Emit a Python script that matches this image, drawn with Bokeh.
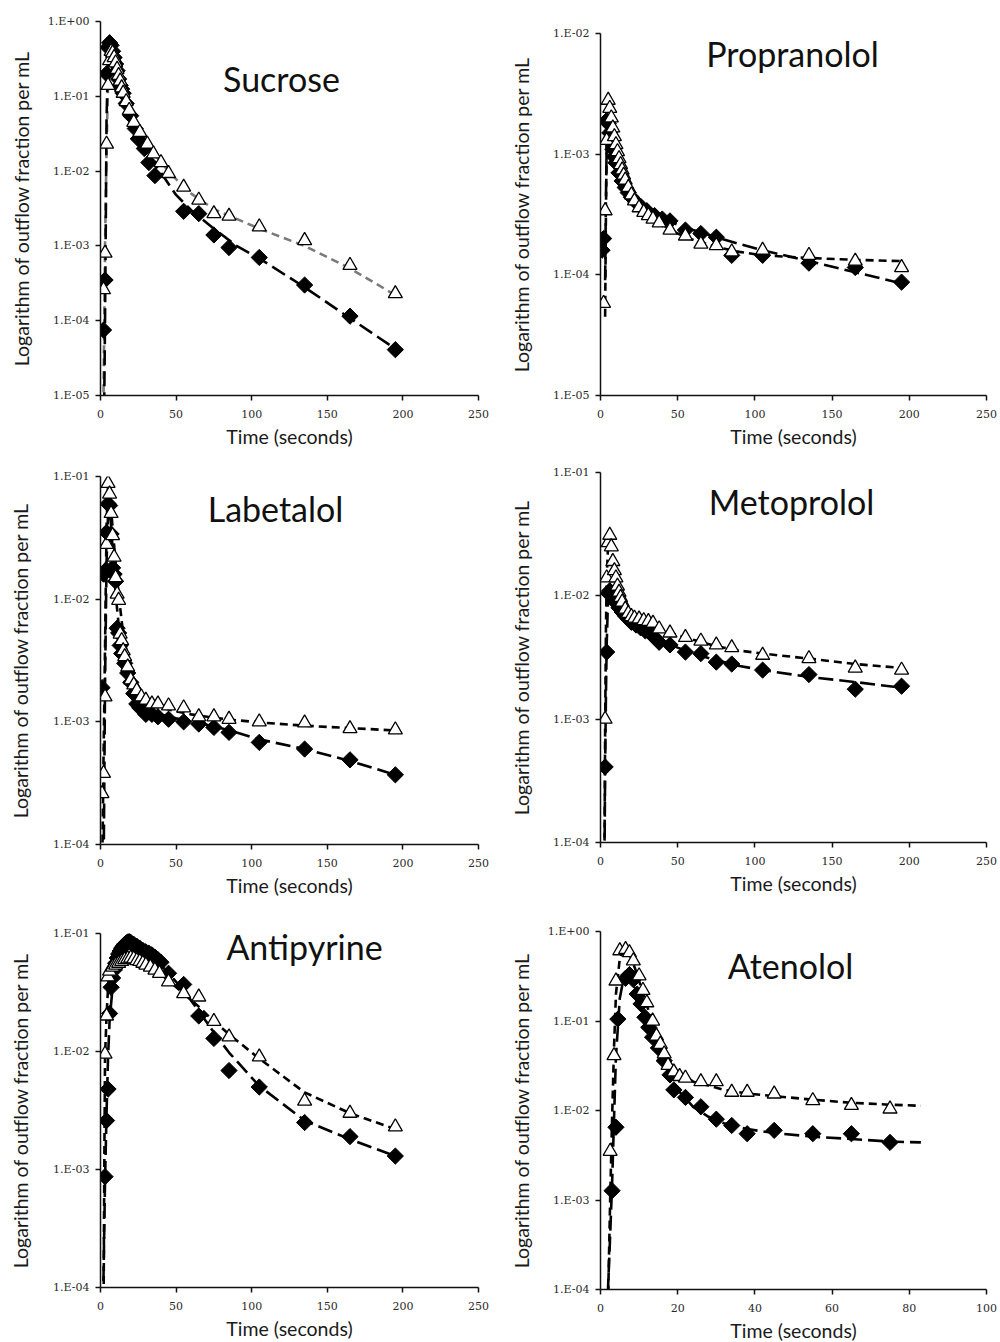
import math
from bokeh.plotting import figure
from bokeh.layouts import column, row
from bokeh.models import Label, CustomJSTickFormatter, FixedTicker, Range1d
from bokeh.embed import file_html
from bokeh.resources import INLINE

# ---------------- data ----------------
x_ticks_long = [0, 50, 100, 150, 200, 250]
x_ticks_short = [0, 20, 40, 60, 80, 100]

# Sucrose
suc_t_d = [2, 3, 4, 5, 6, 7, 8, 9, 10, 11, 12, 13, 14, 15, 17, 20, 23, 25, 29, 32, 36, 55, 65, 75, 85, 105, 135, 165, 195]
suc_d = [7.5e-5, 3.5e-4, 0.2, 0.45, 0.52, 0.48, 0.40, 0.33, 0.27, 0.22, 0.17, 0.14, 0.125, 0.11, 0.08, 0.055, 0.037, 0.027, 0.02, 0.013, 0.0087,
         0.0029, 0.0027, 0.0014, 0.00095, 0.0007, 0.0003, 0.000115, 4.1e-5]
suc_t_a = [2, 3, 4, 5, 6, 7, 8, 9, 10, 11, 12, 13, 14, 15, 17, 19, 22, 26, 31, 35, 40, 45, 55, 65, 75, 85, 105, 135, 165, 195]
suc_a = [2.6e-4, 8e-4, 0.023, 0.14, 0.3, 0.4, 0.38, 0.33, 0.28, 0.23, 0.19, 0.16, 0.13, 0.11, 0.085, 0.065, 0.045, 0.033, 0.023, 0.017, 0.013, 0.0093,
         0.0061, 0.0041, 0.0027, 0.0025, 0.0018, 0.00118, 0.00055, 0.00023]
suc_fit_t_d = [2, 2.5, 3, 3.5, 4, 5, 6, 7, 9, 12, 15, 20, 25, 30, 40, 50, 60, 75, 90, 105, 135, 165, 195]
suc_fit_d = [1e-6, 1e-5, 1e-4, 2e-3, 0.05, 0.35, 0.5, 0.47, 0.33, 0.18, 0.11, 0.055, 0.03, 0.017, 0.0095, 0.0048, 0.003, 0.0017, 0.001, 0.00068,
             0.00028, 0.000108, 4.2e-5]
suc_fit_t_a = [1.5, 2, 2.5, 3, 4, 5, 6, 7, 9, 12, 15, 20, 25, 30, 40, 50, 60, 75, 90, 105, 135, 165, 195]
suc_fit_a = [1e-6, 1e-5, 1e-4, 1e-3, 0.02, 0.15, 0.33, 0.4, 0.32, 0.19, 0.12, 0.06, 0.036, 0.024, 0.013, 0.0078, 0.005, 0.0031, 0.0023, 0.0017,
             0.001, 0.0005, 0.00022]

# Propranolol
pro_t_d = [1, 2, 4, 5, 6, 7, 8, 9, 10, 12, 14, 16, 18, 20, 23, 26, 30, 35, 40, 45, 55, 65, 75, 85, 105, 135, 165, 195]
pro_d = [1.6e-4, 2.0e-4, 1.9e-3, 1.8e-3, 1.5e-3, 1.3e-3, 1.1e-3, 9.5e-4, 8.5e-4, 7.0e-4, 6.0e-4, 5.3e-4, 4.8e-4, 4.4e-4, 4.0e-4, 3.7e-4,
         3.4e-4, 3.1e-4, 2.9e-4, 2.8e-4, 2.35e-4, 2.2e-4, 2.05e-4, 1.45e-4, 1.45e-4, 1.25e-4, 1.15e-4, 8.7e-5]
pro_t_a = [2, 3, 4, 5, 6, 7, 8, 9, 10, 11, 12, 13, 14, 15, 16, 18, 20, 22, 25, 28, 31, 34, 38, 45, 55, 65, 75, 85, 105, 135, 165, 195]
pro_a = [5.8e-5, 3.4e-4, 1.3e-3, 2.8e-3, 2.4e-3, 2.0e-3, 1.65e-3, 1.4e-3, 1.2e-3, 1.05e-3, 9.2e-4, 8.2e-4, 7.4e-4, 6.7e-4, 6.1e-4, 5.3e-4,
         4.6e-4, 4.1e-4, 3.6e-4, 3.3e-4, 3.1e-4, 2.9e-4, 2.7e-4, 2.35e-4, 2.1e-4, 1.8e-4, 1.75e-4, 1.55e-4, 1.6e-4, 1.45e-4, 1.3e-4, 1.15e-4]
pro_fit_t_d = [3, 3.5, 4, 4.5, 5, 6, 8, 10, 13, 16, 20, 25, 30, 40, 50, 60, 75, 90, 105, 135, 165, 195]
pro_fit_d = [9e-5, 4e-4, 1.2e-3, 1.7e-3, 1.8e-3, 1.5e-3, 1.15e-3, 9e-4, 6.9e-4, 5.6e-4, 4.5e-4, 3.8e-4, 3.4e-4, 2.95e-4, 2.6e-4, 2.35e-4,
             2.05e-4, 1.8e-4, 1.6e-4, 1.3e-4, 1.05e-4, 8.5e-5]
pro_fit_t_a = [3, 3.5, 4, 4.5, 5, 6, 7, 8, 10, 13, 16, 20, 25, 30, 40, 50, 60, 75, 90, 105, 135, 165, 195]
pro_fit_a = [4.5e-5, 3e-4, 1.3e-3, 2.3e-3, 2.6e-3, 2.4e-3, 1.95e-3, 1.6e-3, 1.15e-3, 8.2e-4, 6.3e-4, 4.8e-4, 3.7e-4, 3.15e-4, 2.6e-4, 2.2e-4,
             1.95e-4, 1.7e-4, 1.55e-4, 1.45e-4, 1.38e-4, 1.33e-4, 1.3e-4]

# Labetalol
lab_t_d = [1, 2, 3, 4, 5, 6, 7, 8, 9, 10, 11, 12, 13, 14, 16, 18, 20, 22, 24, 26, 30, 34, 38, 45, 55, 65, 75, 85, 105, 135, 165, 195]
lab_d = [1.9e-3, 0.016, 0.017, 0.035, 0.06, 0.058, 0.034, 0.018, 0.016, 0.014, 0.0058, 0.0053, 0.0042, 0.0036, 0.003, 0.0025, 0.0021, 0.0017,
         0.0014, 0.0013, 0.00115, 0.00115, 0.0011, 0.00105, 0.001, 0.00096, 0.0009, 0.00082, 0.00068, 0.0006, 0.00049, 0.00037]
lab_t_a = [1, 2, 3, 4, 5, 6, 7, 8, 9, 10, 11, 12, 13, 14, 15, 16, 18, 20, 22, 24, 27, 30, 34, 38, 45, 55, 65, 75, 85, 105, 135, 165, 195]
lab_a = [2.6e-4, 3.8e-4, 1.6e-3, 0.028, 0.088, 0.072, 0.05, 0.033, 0.022, 0.015, 0.011, 0.0098, 0.0052, 0.0046, 0.0038, 0.0034, 0.0028, 0.0022,
         0.002, 0.0018, 0.0016, 0.0015, 0.0014, 0.0014, 0.00135, 0.0013, 0.0011, 0.0011, 0.00105, 0.001, 0.00098, 0.00088, 0.00086]
lab_fit_t_d = [2, 2.5, 3, 4, 5, 6, 7, 8, 10, 12, 15, 20, 25, 30, 40, 50, 60, 75, 90, 105, 135, 165, 195]
lab_fit_d = [5e-5, 3e-4, 2e-3, 0.02, 0.05, 0.055, 0.04, 0.026, 0.011, 0.0062, 0.0037, 0.0021, 0.0015, 0.0013, 0.00115, 0.00107, 0.001, 0.00092,
             0.00082, 0.00072, 0.0006, 0.00048, 0.00037]
lab_fit_t_a = [1, 1.5, 2, 3, 4, 5, 6, 7, 8, 10, 12, 15, 20, 25, 30, 40, 50, 60, 75, 90, 105, 135, 165, 195]
lab_fit_a = [5e-5, 1.5e-4, 5e-4, 4e-3, 0.04, 0.085, 0.075, 0.055, 0.038, 0.02, 0.011, 0.0052, 0.0026, 0.0018, 0.0015, 0.0013, 0.00122, 0.00115,
             0.00108, 0.00103, 0.00099, 0.00093, 0.00089, 0.00085]

# Metoprolol
met_t_d = [3, 4, 5, 6, 7, 8, 9, 10, 12, 14, 16, 18, 20, 23, 26, 29, 32, 35, 38, 45, 55, 65, 75, 85, 105, 135, 165, 195]
met_d = [4.1e-4, 3.5e-3, 0.0105, 0.011, 0.0105, 0.0098, 0.0092, 0.0088, 0.008, 0.0074, 0.0069, 0.0065, 0.0061, 0.0058, 0.0055, 0.0052, 0.005,
         0.0046, 0.0042, 0.004, 0.0035, 0.0034, 0.0029, 0.0028, 0.0025, 0.0023, 0.00175, 0.00185]
met_t_a = [3, 4, 5, 6, 7, 8, 9, 10, 11, 12, 13, 14, 16, 18, 20, 22, 25, 28, 31, 34, 38, 45, 55, 65, 75, 85, 105, 135, 165, 195]
met_a = [1.0e-3, 0.014, 0.027, 0.031, 0.025, 0.019, 0.016, 0.014, 0.012, 0.0107, 0.0097, 0.0089, 0.0078, 0.0072, 0.0068, 0.0066, 0.0065,
         0.0063, 0.0062, 0.006, 0.0054, 0.005, 0.0046, 0.0043, 0.004, 0.0038, 0.0033, 0.0031, 0.0026, 0.0025]
met_fit_t_d = [2.5, 3, 3.5, 4, 5, 6, 8, 10, 13, 16, 20, 25, 30, 40, 50, 60, 75, 90, 105, 135, 165, 195]
met_fit_d = [5e-5, 4e-4, 1.5e-3, 4e-3, 0.0105, 0.011, 0.0098, 0.0088, 0.0077, 0.0069, 0.0062, 0.0056, 0.0051, 0.0043, 0.0038, 0.0034, 0.003,
             0.0027, 0.0025, 0.0022, 0.002, 0.0018]
met_fit_t_a = [2.5, 3, 3.5, 4, 5, 6, 7, 8, 10, 13, 16, 20, 25, 30, 40, 50, 60, 75, 90, 105, 135, 165, 195]
met_fit_a = [5e-5, 8e-4, 5e-3, 0.014, 0.027, 0.031, 0.026, 0.02, 0.014, 0.0105, 0.0085, 0.0072, 0.0065, 0.006, 0.0053, 0.0048, 0.0044, 0.0039,
             0.0036, 0.0034, 0.0031, 0.0028, 0.0026]

# Antipyrine
ant_t_d = [3, 4, 5, 6, 7, 8, 9, 10, 11, 12, 13, 14, 15, 16, 17, 18, 19, 20, 22, 24, 26, 28, 30, 32, 34, 36, 38, 40, 45, 55, 65, 75, 85, 105,
           135, 165, 195]
ant_d = [8.7e-4, 2.6e-3, 4.8e-3, 0.021, 0.035, 0.042, 0.049, 0.056, 0.062, 0.067, 0.071, 0.075, 0.078, 0.081, 0.083, 0.085, 0.086, 0.084,
         0.081, 0.078, 0.075, 0.072, 0.07, 0.068, 0.066, 0.063, 0.06, 0.057, 0.046, 0.037, 0.020, 0.0129, 0.0069, 0.005, 0.0025, 0.0019, 0.0013]
ant_t_a = [3, 4, 5, 6, 8, 10, 12, 14, 16, 18, 20, 22, 24, 26, 28, 30, 33, 36, 39, 45, 55, 65, 75, 85, 105, 135, 165, 195]
ant_a = [0.0095, 0.020, 0.043, 0.048, 0.052, 0.054, 0.056, 0.058, 0.06, 0.061, 0.062, 0.061, 0.059, 0.058, 0.056, 0.054, 0.052, 0.049, 0.046,
         0.039, 0.031, 0.029, 0.018, 0.0133, 0.009, 0.0038, 0.003, 0.0023]
ant_fit_t_d = [1.5, 3, 4, 5, 6, 8, 10, 13, 16, 19, 22, 26, 30, 35, 40, 45, 55, 65, 75, 85, 105, 135, 165, 195]
ant_fit_d = [5e-5, 8e-4, 3e-3, 9e-3, 0.018, 0.035, 0.05, 0.066, 0.077, 0.082, 0.081, 0.076, 0.07, 0.062, 0.054, 0.046, 0.033, 0.022, 0.0145,
             0.0098, 0.0051, 0.0026, 0.0018, 0.0013]
ant_fit_t_a = [2, 2.5, 3, 4, 5, 6, 8, 10, 13, 16, 20, 25, 30, 35, 40, 45, 55, 65, 75, 85, 105, 135, 165, 195]
ant_fit_a = [5e-5, 1e-3, 0.009, 0.02, 0.035, 0.045, 0.052, 0.056, 0.059, 0.061, 0.062, 0.059, 0.055, 0.05, 0.045, 0.04, 0.031, 0.024, 0.018,
             0.014, 0.0087, 0.0045, 0.003, 0.0022]

# Atenolol
ate_t_d = [3, 4, 4.5, 6.5, 7.5, 8.5, 9.5, 10.5, 11.5, 12.5, 13.5, 15, 16.5, 18, 19, 22, 26, 30, 34, 38, 45, 55, 65, 75]
ate_d = [1.27e-3, 6.5e-3, 0.105, 0.30, 0.33, 0.29, 0.20, 0.155, 0.11, 0.085, 0.066, 0.05, 0.036, 0.025, 0.017, 0.014, 0.011, 0.008, 0.0068,
         0.0055, 0.006, 0.0055, 0.0055, 0.0044]
ate_t_a = [2.5, 3.5, 4, 5, 6.5, 7.5, 8.5, 10, 11, 12, 13.5, 14.5, 15.5, 16.5, 17.5, 19, 20.5, 22, 26, 30, 34, 38, 45, 55, 65, 75]
ate_a = [3.5e-3, 0.041, 0.28, 0.61, 0.63, 0.58, 0.47, 0.32, 0.22, 0.16, 0.10, 0.068, 0.055, 0.043, 0.032, 0.027, 0.024, 0.023, 0.021, 0.021,
         0.016, 0.016, 0.0153, 0.0129, 0.0114, 0.0104]
ate_fit_t_d = [1.9, 2.5, 3, 3.5, 4, 5, 6, 7, 8, 9, 10, 12, 14, 16, 18, 20, 24, 28, 32, 38, 45, 55, 65, 75, 83]
ate_fit_d = [9e-5, 4e-4, 1.5e-3, 8e-3, 0.04, 0.18, 0.3, 0.33, 0.3, 0.23, 0.17, 0.1, 0.06, 0.038, 0.024, 0.017, 0.011, 0.0085, 0.0072, 0.0062,
             0.0056, 0.0051, 0.0048, 0.0045, 0.0044]
ate_fit_t_a = [2, 2.5, 3, 3.5, 4, 5, 6, 7, 8, 9, 10, 12, 14, 16, 18, 20, 24, 28, 32, 38, 45, 55, 65, 75, 83]
ate_fit_a = [9e-5, 1e-3, 8e-3, 0.05, 0.2, 0.5, 0.62, 0.6, 0.5, 0.38, 0.28, 0.15, 0.08, 0.048, 0.034, 0.027, 0.021, 0.019, 0.017, 0.0155,
             0.0145, 0.0132, 0.0122, 0.0116, 0.0113]

# ---------------- styling ----------------
LABEL_FONT = "Lato"
TICK_FONT = "DejaVu Serif"

fmt_code = """
const e = Math.round(Math.log10(tick));
const s = e < 0 ? '-' : '+';
const a = Math.abs(e);
return '1.E' + s + (a < 10 ? '0' : '') + a;
"""


def panel(name, data, xmax, xticks, ymin, ymax, geom, title_xy, ylab_off, tri_line_color="black"):
    (td, yd, ta, ya, ftd, fyd, fta, fya) = data
    fw, fh, bl, br, bt, bb = geom
    p = figure(frame_width=fw, frame_height=fh, x_range=Range1d(0, xmax), y_range=Range1d(ymin, ymax),
               y_axis_type="log", output_backend="svg", toolbar_location=None,
               min_border_left=bl, min_border_right=br, min_border_top=bt, min_border_bottom=bb)
    p.outline_line_color = None
    p.grid.visible = False
    p.background_fill_color = "white"
    p.border_fill_color = "white"

    yticks = [10.0 ** k for k in range(int(round(math.log10(ymin))), int(round(math.log10(ymax))) + 1)]
    p.xaxis.ticker = FixedTicker(ticks=xticks)
    p.yaxis.ticker = FixedTicker(ticks=yticks)
    p.yaxis.formatter = CustomJSTickFormatter(code=fmt_code)
    for ax in (p.xaxis[0], p.yaxis[0]):
        ax.axis_line_width = 1.5
        ax.axis_line_color = "#111111"
        ax.major_tick_line_color = "#111111"
        ax.major_tick_line_width = 1.5
        ax.major_tick_out = 5
        ax.major_tick_in = 0
        ax.minor_tick_out = 0
        ax.minor_tick_in = 0
        ax.major_label_text_font = TICK_FONT
        ax.major_label_text_font_size = "11px"
        ax.major_label_text_color = "#2a2a2a"
        ax.axis_label_text_font = LABEL_FONT
        ax.axis_label_text_font_style = "normal"
        ax.axis_label_text_font_size = "19.5px"
        ax.axis_label_text_color = "#1a1a1a"
    p.xaxis.axis_label = "Time (seconds)"
    p.yaxis.axis_label = "Logarithm of outflow fraction per mL"
    p.xaxis.major_label_standoff = 9
    p.xaxis.axis_label_standoff = 4
    p.yaxis.major_label_standoff = 6
    p.yaxis.axis_label_standoff = ylab_off

    p.line(fta, fya, line_color=tri_line_color, line_width=2.6, line_dash="8 5")
    p.line(ftd, fyd, line_color="black", line_width=2.6, line_dash="15 6")
    p.scatter(td, yd, marker="square", angle=math.pi / 4, size=11.5, fill_color="black", line_color="black", line_width=1)
    p.scatter(ta, ya, marker="triangle", size=14, fill_color="white", line_color="black", line_width=1.3)

    p.add_layout(Label(x=title_xy[0], y=title_xy[1], x_units="screen", y_units="screen", text=name,
                       text_font=LABEL_FONT, text_font_size="34px", text_align="center",
                       text_baseline="alphabetic", text_color="#111111"))
    return p


# geometry: frame_width, frame_height, border left, right, top, bottom
p1 = panel("Sucrose", (suc_t_d, suc_d, suc_t_a, suc_a, suc_fit_t_d, suc_fit_d, suc_fit_t_a, suc_fit_a),
           250, x_ticks_long, 1e-5, 1.0, (378, 374, 100, 22, 21, 55), (181, 317), 12, tri_line_color="#7a7a7a")
p3 = panel("Labetalol", (lab_t_d, lab_d, lab_t_a, lab_a, lab_fit_t_d, lab_fit_d, lab_fit_t_a, lab_fit_a),
           250, x_ticks_long, 1e-4, 1e-1, (378, 368, 100, 22, 26, 55), (175, 336), 18)
p5 = panel("Antipyrine", (ant_t_d, ant_d, ant_t_a, ant_a, ant_fit_t_d, ant_fit_d, ant_fit_t_a, ant_fit_a),
           250, x_ticks_long, 1e-4, 1e-1, (378, 354, 100, 22, 34, 53), (204, 341), 18)
p2 = panel("Propranolol", (pro_t_d, pro_d, pro_t_a, pro_a, pro_fit_t_d, pro_fit_d, pro_fit_t_a, pro_fit_a),
           250, x_ticks_long, 1e-5, 1e-2, (386, 362, 100, 14, 33, 55), (192, 342), 17)
p4 = panel("Metoprolol", (met_t_d, met_d, met_t_a, met_a, met_fit_t_d, met_fit_d, met_fit_t_a, met_fit_a),
           250, x_ticks_long, 1e-4, 1e-1, (386, 370, 100, 14, 22, 55), (191, 341), 17)
p6 = panel("Atenolol", (ate_t_d, ate_d, ate_t_a, ate_a, ate_fit_t_d, ate_fit_d, ate_fit_t_a, ate_fit_a),
           100, x_ticks_short, 1e-4, 1.0, (386, 358, 100, 14, 34, 51), (190, 324), 12)

layout = row(column(p1, p3, p5, spacing=0), column(p2, p4, p6, spacing=0), spacing=0)

with open("out.html", "w") as f:
    f.write(file_html(layout, INLINE))
